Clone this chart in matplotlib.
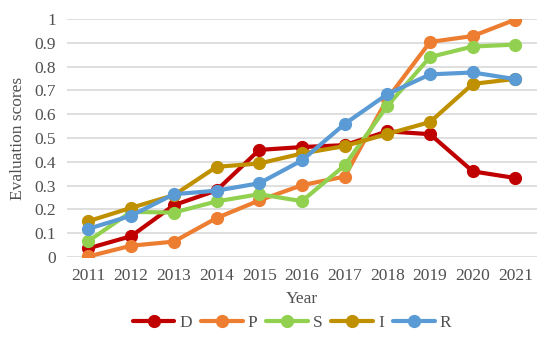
import matplotlib
matplotlib.use("Agg")
import matplotlib.pyplot as plt

years = [2011, 2012, 2013, 2014, 2015, 2016, 2017, 2018, 2019, 2020, 2021]
D = [0.037, 0.088, 0.218, 0.28, 0.45, 0.462, 0.47, 0.528, 0.516, 0.36, 0.332]
P = [0.003, 0.048, 0.065, 0.164, 0.238, 0.302, 0.338, 0.665, 0.903, 0.928, 0.997]
S = [0.068, 0.19, 0.187, 0.234, 0.264, 0.235, 0.385, 0.635, 0.84, 0.884, 0.892]
I = [0.151, 0.207, 0.26, 0.379, 0.393, 0.435, 0.466, 0.517, 0.567, 0.727, 0.748]
R = [0.119, 0.174, 0.264, 0.279, 0.31, 0.406, 0.559, 0.684, 0.767, 0.775, 0.747]
series_names = ["D", "P", "S", "I", "R"]
colors = ["#C00000", "#ED7D31", "#92D050", "#BF9000", "#5B9BD5"]
yticks = [0, 0.1, 0.2, 0.3, 0.4, 0.5, 0.6, 0.7, 0.8, 0.9, 1]

plt.rcParams['font.family'] = ['Liberation Serif', 'DejaVu Serif']

fig = plt.figure(figsize=(5.5, 3.37), dpi=100)
ax = fig.add_axes([0.122, 0.237, 0.854, 0.707])

for name, vals, c in zip(series_names, [D, P, S, I, R], colors):
    ax.plot(years, vals, color=c, lw=3, marker='o', markersize=8.5, label=name,
            solid_capstyle='round')

ax.set_xlim(2010.5, 2021.5)
ax.set_ylim(0, 1)
ax.set_yticks(yticks)
ax.set_yticklabels([f"{v:g}" for v in yticks])
ax.set_xticks(years)
ax.set_xticklabels([str(y) for y in years])
ax.tick_params(length=0, labelsize=12.5, colors='#505050', pad=8)
ax.yaxis.grid(True, color='#D9D9D9', lw=1.2)
ax.set_axisbelow(True)
for s in ax.spines.values():
    s.set_visible(False)

ax.set_xlabel("Year", fontsize=12.5, color='#505050', labelpad=5)
ax.set_ylabel("Evaluation scores", fontsize=12.5, color='#505050', labelpad=6)

fig.legend(loc='center', bbox_to_anchor=(0.531, 0.042), ncol=5, frameon=False,
           fontsize=12.5, handlelength=2.4, columnspacing=0.5, handletextpad=0.3,
           labelcolor='#505050')

fig.savefig("out.png", dpi=100)
